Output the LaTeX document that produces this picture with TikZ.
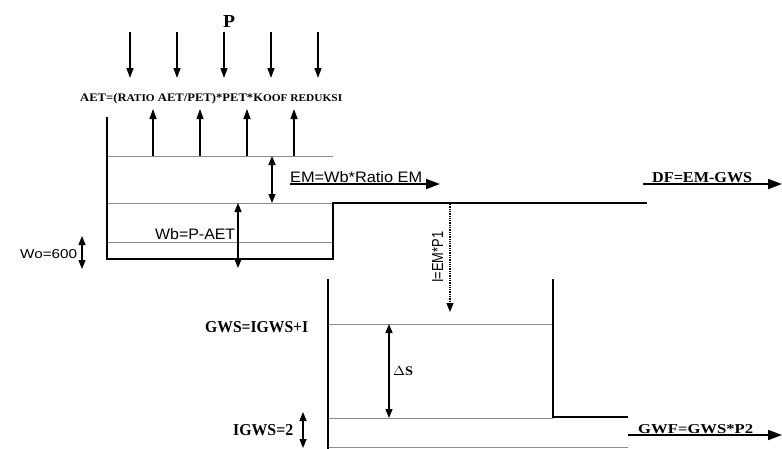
\documentclass[tikz,border=0pt]{standalone}
\usepackage{fontspec}
\setmainfont{Liberation Serif}
\setsansfont{Liberation Sans}
\usetikzlibrary{arrows.meta}
\newcommand{\fitlab}[3]{\resizebox{#1pt}{#2pt}{#3}}
\begin{document}
\begin{tikzpicture}[x=1pt,y=-1pt,
  wall/.style={line width=2.8pt},
  level/.style={line width=0.6pt,draw=black!45},
  flux/.style={line width=1.3pt,-{Triangle[length=10pt,width=7pt]}},
  bigflux/.style={line width=1.8pt,-{Triangle[length=14pt,width=10pt]}},
  dbl/.style={line width=1.3pt,{Triangle[length=9pt,width=7pt]}-{Triangle[length=9pt,width=7pt]}},
  lab/.style={inner sep=0pt,anchor=base west},
  serlab/.style={lab,font=\bfseries\rmfamily},
  sanlab/.style={lab,font=\sffamily}]
\useasboundingbox (0,0) rectangle (782,448);
% ---------- precipitation ----------
\node[serlab] (P) at (223,27) {\fitlab{12}{12}{P}};
\foreach \i/\x in {1/130,2/177,3/224,4/271,5/318}{
  \coordinate (pt\i) at (\x,32);
  \coordinate (pb\i) at (\x,78);
  \draw[flux] (pt\i) -- (pb\i);
}
\node[serlab] (aet) at (80,101) {\fitlab{262}{8}{AET=(R{\small ATIO} AET/PET)*PET*K{\small OOF REDUKSI}}};
\foreach \i/\x in {1/153,2/200,3/247,4/294}{
  \coordinate (eb\i) at (\x,156);
  \coordinate (et\i) at (\x,109);
  \draw[flux] (eb\i) -- (et\i);
}
% ---------- upper tank ----------
\coordinate (ul) at (107,117);
\coordinate (ubl) at (107,259);
\coordinate (ubr) at (333,259);
\coordinate (ust) at (333,203);
\coordinate (use) at (647,203);
\draw[level] (107,156) -- (333,156);
\draw[level] (107,203) -- (333,203);
\draw[level] (107,242) -- (333,242);
\draw[wall] (ul) -- (ubl) -- (ubr) -- (ust) -- (use);
% EM
\coordinate (emt) at (272,156);
\coordinate (emb) at (272,203);
\draw[dbl] (emt) -- (emb);
\node[sanlab] (em) at (290,182) {\fitlab{132}{11}{EM=Wb*Ratio EM}};
\coordinate (ems) at (290,184);
\coordinate (eme) at (440,184);
\draw[bigflux] (ems) -- (eme);
% Wb
\coordinate (wbt) at (238,203);
\coordinate (wbb) at (238,268);
\draw[dbl] (wbt) -- (wbb);
\node[sanlab] (wb) at (155,239) {\fitlab{80}{11}{Wb=P-AET}};
% Wo
\node[sanlab] (wo) at (20,258) {\fitlab{57}{9}{Wo=600}};
\coordinate (wot) at (82,236);
\coordinate (wob) at (82,269);
\draw[dbl] (wot) -- (wob);
% DF
\node[serlab] (df) at (652,182) {\fitlab{100}{10}{DF=EM-GWS}};
\coordinate (dfs) at (643,184);
\coordinate (dfe) at (782,184);
\draw[bigflux] (dfs) -- (dfe);
% Infiltration
\coordinate (is) at (450,204);
\coordinate (ie) at (450,312);
\draw[line width=1.3pt,densely dotted,-{Triangle[length=9pt,width=7pt]}] (is) -- (ie);
\node[sanlab,rotate=90] (inf) at (443,283) {\fitlab{51}{11}{I=EM*P1}};
% ---------- lower tank ----------
\coordinate (ll) at (328,279);
\coordinate (lb) at (328,449);
\coordinate (lr) at (553,279);
\coordinate (lrb) at (553,417);
\coordinate (lre) at (628,417);
\draw[level] (328,324) -- (553,324);
\draw[level] (328,418) -- (553,418);
\draw[level] (328,447) -- (628,447);
\draw[wall] (ll) -- (lb);
\draw[wall] (lr) -- (lrb) -- (lre);
\node[serlab] (gws) at (205,332) {\fitlab{103}{11}{GWS=IGWS+I}};
\coordinate (dst) at (389,324);
\coordinate (dsb) at (389,418);
\draw[dbl] (dst) -- (dsb);
\node[serlab] (ds) at (393,375) {\fitlab{20}{9}{$\Delta$S}};
\node[serlab] (igws) at (233,435) {\fitlab{60}{11}{IGWS=2}};
\coordinate (igt) at (303,412);
\coordinate (igb) at (303,448);
\draw[dbl] (igt) -- (igb);
\node[serlab] (gwf) at (638,433) {\fitlab{115}{9}{GWF=GWS*P2}};
\coordinate (gwfs) at (628,435);
\coordinate (gwfe) at (782,435);
\draw[bigflux] (gwfs) -- (gwfe);
\end{tikzpicture}
\end{document}
